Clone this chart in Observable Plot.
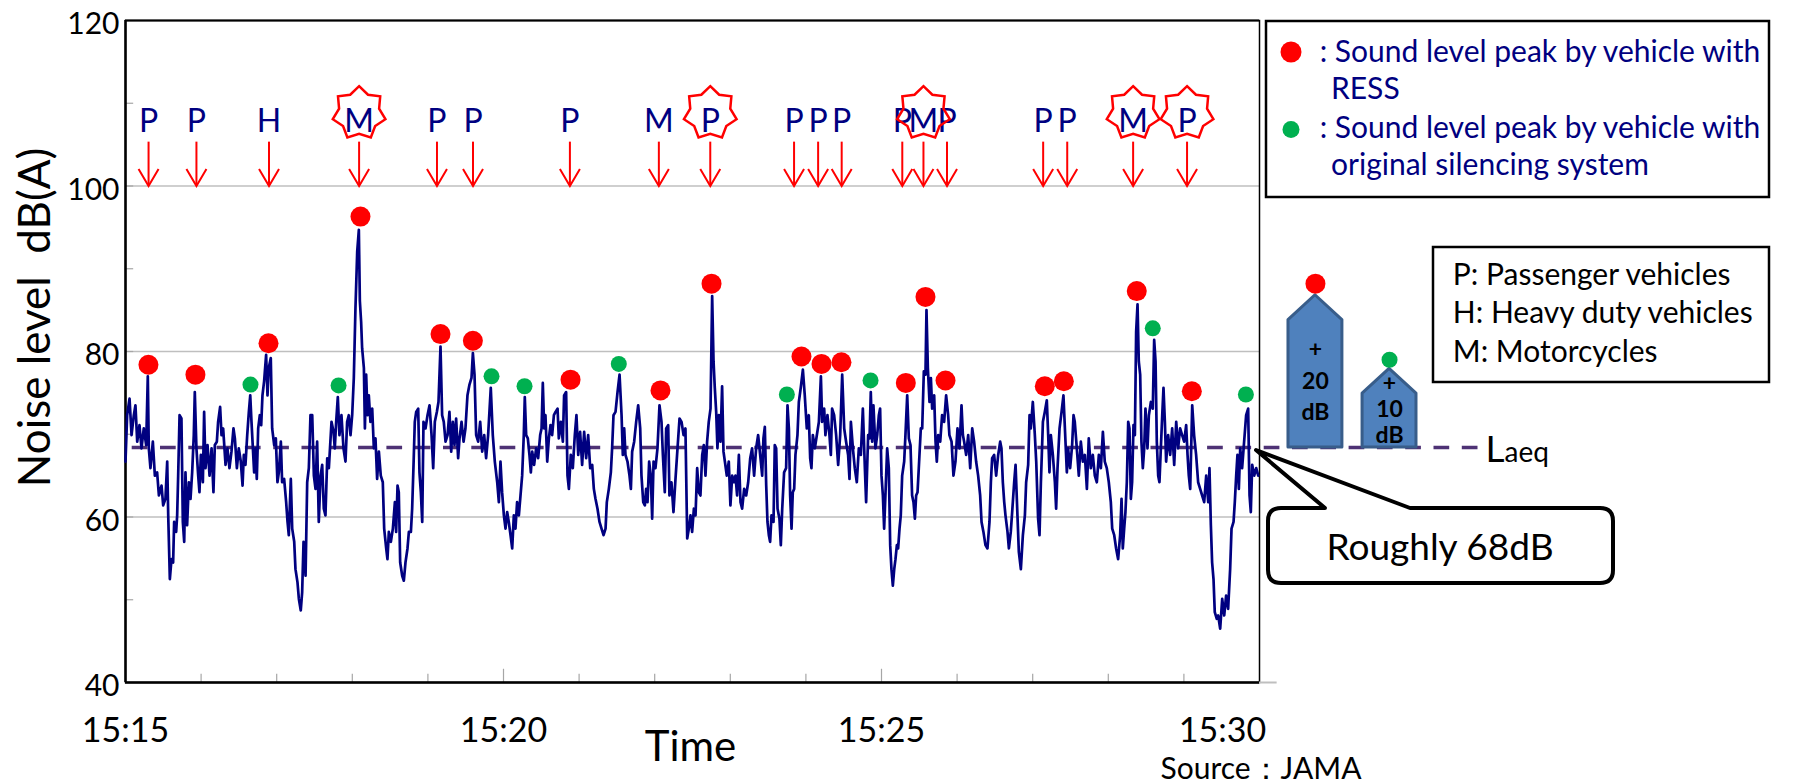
<!DOCTYPE html>
<html><head><meta charset="utf-8">
<script src="https://cdn.jsdelivr.net/npm/d3@7"></script>
<script src="https://cdn.jsdelivr.net/npm/@observablehq/plot@0.6"></script>
<style>
html,body{margin:0;padding:0;background:#fff;}
#chart{width:1805px;height:783px;overflow:hidden;position:relative;}
</style></head><body><div id="chart"></div>
<script>
// ---------- DATA ----------
// noise level readings: [seconds after 15:15:00, dB(A)]
const noiseReadings = [
[0,66.7],[1.3,72.3],[3.2,74.3],[4.8,69.9],[6.6,72.3],[7.9,73.5],[9.3,69.1],[11.1,71.1],[12.7,68.3],[14.5,70.7],[16.4,68.7],[17.7,77.0],[18.5,68.3],[19.8,65.9],[21.7,69.1],[23.3,65.0],[25.1,65.4],[26.5,62.6],[28.6,63.8],[29.9,61.4],[31.7,62.2],[33.1,66.7],[33.9,60.2],[35.2,52.5],[36.5,54.9],[37.8,54.5],[38.6,59.4],[40.2,58.2],[41.0,60.2],[41.8,65.0],[42.9,72.3],[44.4,71.9],[45.5,59.4],[46.6,57.0],[47.6,65.4],[48.9,59.0],[50.3,64.2],[51.6,62.2],[52.9,65.4],[54.2,69.9],[55.0,75.1],[56.3,68.3],[57.7,65.0],[58.7,63.0],[59.8,67.5],[61.4,64.2],[62.4,72.7],[63.5,65.9],[65.1,68.7],[66.7,65.0],[68.3,68.3],[69.8,63.0],[70.9,68.7],[72.5,69.1],[73.5,71.5],[75.1,73.3],[76.2,69.9],[77.5,70.7],[79.4,66.3],[80.9,68.3],[82.5,65.9],[84.1,67.9],[85.7,70.7],[86.8,69.5],[88.4,65.9],[89.9,68.3],[91.5,66.7],[92.9,63.8],[93.9,67.5],[95.2,66.3],[96.6,69.9],[97.9,72.7],[99.0,74.7],[100.0,71.5],[101.1,68.3],[102.1,65.4],[103.2,68.3],[104.2,64.6],[105.3,70.7],[106.6,72.3],[107.7,71.1],[108.7,74.7],[110.0,76.4],[111.6,79.6],[112.7,74.7],[113.7,78.0],[115.3,79.2],[116.4,70.7],[118.0,68.7],[119.3,69.5],[120.6,64.2],[121.7,65.4],[123.3,69.1],[124.3,64.2],[125.9,64.6],[127.5,61.8],[128.6,59.4],[129.6,57.8],[131.2,64.6],[132.3,58.6],[133.9,57.0],[134.9,53.7],[136.5,52.1],[137.6,50.1],[139.1,48.7],[140.2,50.9],[141.3,57.0],[142.9,52.9],
[144.2,64.2],[145.5,65.9],[146.8,72.3],[148.2,72.3],[149.5,65.0],[150.8,63.4],[152.1,69.1],[153.4,59.4],[154.8,65.0],[156.1,66.3],[157.4,61.0],[158.7,60.2],[160.1,67.1],[161.4,65.9],[163.5,71.5],[165.1,70.3],[166.1,68.3],[167.2,71.5],[168.5,74.5],[169.8,69.9],[171.4,72.3],[173.0,68.3],[174.6,66.7],[175.9,71.5],[177.2,72.3],[178.6,69.9],[179.9,72.3],[181.2,76.8],[182.5,85.2],[183.9,92.1],[185.2,94.7],[186.0,86.1],[187.0,83.6],[187.8,80.4],[189.2,78.0],[190.0,70.7],[191.0,77.2],[192.1,72.3],[193.1,74.7],[194.4,71.5],[195.8,73.1],[197.1,68.3],[198.4,69.5],[199.7,64.6],[201.1,67.9],[202.6,65.0],[204.2,64.2],[205.3,58.6],[206.9,56.2],[207.9,54.9],[209.0,58.2],[210.6,57.0],[212.2,58.6],[213.8,61.8],[214.8,58.2],[215.9,63.8],[216.9,63.0],[218.0,54.5],[219.6,52.9],[220.9,52.3],[222.2,54.5],[223.8,56.2],[224.9,58.2],[226.5,58.2],[227.5,61.0],[228.6,66.3],[229.6,71.5],[230.7,72.7],[232.3,73.1],[233.3,65.4],[234.4,63.0],[235.5,59.4],[236.5,71.5],[238.1,70.7],[239.7,72.3],[241.3,73.5],[242.9,69.9],[244.2,65.9],[245.5,71.5],[247.1,72.7],[248.4,73.9],[250.0,80.6],[251.3,72.3],[252.6,71.5],[254.0,69.1],[255.6,69.9],[257.1,72.7],[258.5,67.9],[259.8,71.5],[261.1,68.7],[262.4,71.9],[264.0,67.1],[265.1,69.5],[266.7,71.5],[268.3,69.1],[269.8,70.7],[271.4,74.7],[273.0,76.0],[274.6,76.8],[275.7,79.8],[277.0,77.2],[278.3,69.9],[279.9,69.1],[281.5,71.5],[283.1,67.9],[284.7,69.9],[286.2,67.1],[287.8,69.9],[289.9,75.6],[291.5,69.9],[293.1,66.7],
[295.0,64.2],[296.3,61.8],[297.6,66.7],[298.9,63.0],[300.3,60.2],[301.6,58.6],[302.9,60.6],[304.2,59.4],[305.6,57.8],[306.9,56.2],[308.2,60.2],[309.5,58.6],[310.8,61.8],[312.2,60.2],[313.5,62.6],[314.8,65.0],[316.1,69.9],[316.9,74.5],[318.0,69.9],[319.3,69.5],[320.6,67.5],[321.7,65.4],[322.8,67.9],[324.3,66.3],[325.9,68.3],[327.5,67.1],[329.1,69.9],[330.2,70.7],[331.2,76.2],[332.3,70.7],[333.3,72.3],[334.7,66.7],[336.0,69.5],[337.3,71.1],[338.6,69.9],[340.0,72.3],[341.3,72.7],[342.9,73.1],[343.9,69.5],[345.5,71.5],[347.1,69.1],[348.1,74.7],[349.7,75.1],[350.8,65.0],[351.9,63.4],[353.4,67.5],[355.0,65.9],[356.6,69.9],[357.9,72.3],[359.3,67.5],[360.8,70.3],[362.4,66.3],[364.0,70.3],[365.6,67.1],[367.2,69.9],[368.8,65.9],[370.4,66.3],[371.7,63.4],[373.0,62.2],[374.6,61.0],[376.2,59.4],[377.8,58.6],[379.4,57.8],[381.0,58.6],[382.0,61.8],[383.6,63.4],[385.2,65.4],[386.2,68.3],[387.3,72.3],[388.9,72.7],[390.5,75.1],[392.1,77.2],[393.7,72.3],[394.7,67.5],[395.8,70.7],[396.8,67.5],[398.4,66.7],[400.0,65.0],[401.1,63.4],[402.1,67.9],[403.7,69.1],[405.3,71.5],[406.9,73.5],[408.5,70.7],[409.5,65.0],[410.9,61.8],[412.2,61.4],[413.2,63.4],[414.3,61.8],[415.6,66.7],[416.9,65.0],[418.0,59.8],[419.1,66.7],[420.6,65.9],[422.2,68.3],[423.8,73.5],[425.4,71.5],[426.5,67.5],[428.0,63.0],[429.1,70.7],[430.7,71.1],[431.7,62.6],[433.3,64.2],[434.9,60.6],[436.5,64.6],[438.1,68.3],[439.7,71.9],[441.3,71.5],[442.9,69.9],
[444.4,70.7],[445.8,57.4],[447.1,58.6],[448.4,60.2],[449.7,58.2],[451.1,61.0],[452.4,60.2],[453.7,65.9],[455.0,63.0],[456.3,62.6],[457.7,67.5],[459.0,68.7],[460.3,65.0],[461.6,69.1],[462.9,71.5],[464.3,73.1],[465.6,86.7],[466.7,78.8],[467.7,75.6],[468.8,72.7],[469.8,68.3],[470.9,72.3],[472.2,69.1],[473.5,75.8],[474.6,67.9],[475.7,66.7],[477.2,65.0],[478.8,66.7],[480.1,61.4],[481.5,65.0],[482.8,64.2],[484.1,65.0],[485.4,62.6],[486.8,67.5],[488.1,61.8],[489.4,61.0],[491.0,63.4],[492.6,62.6],[494.2,64.2],[495.8,67.1],[497.3,68.3],[498.9,65.0],[500.5,68.3],[502.1,69.9],[503.7,67.5],[505.3,65.0],[506.3,69.5],[507.4,70.9],[508.5,63.8],[509.5,59.4],[510.6,57.8],[511.6,57.0],[512.7,60.2],[514.3,59.4],[515.3,68.7],[516.4,68.3],[517.5,61.0],[519.0,59.8],[520.1,56.6],[521.2,61.0],[522.7,65.4],[524.3,65.9],[525.4,73.5],[526.5,70.7],[527.5,62.6],[528.6,58.6],[529.6,63.0],[530.7,63.4],[531.7,67.5],[533.3,69.9],[534.4,73.9],[535.9,75.6],[537.6,77.8],[539.1,74.7],[540.7,70.7],[542.3,72.3],[543.4,67.1],[544.4,65.9],[545.5,69.9],[547.1,68.3],[548.7,69.9],[550.3,71.5],[551.9,77.0],[552.9,71.5],[554.5,73.1],[555.5,69.9],[557.1,72.3],[558.7,69.9],[559.8,67.5],[560.8,73.1],[562.4,72.3],[564.0,69.9],[565.6,66.3],[567.2,69.9],[568.8,77.2],[570.4,70.7],[571.9,69.1],[573.5,67.5],[574.6,64.6],[575.7,71.5],[577.3,68.3],[578.8,65.9],[580.4,64.2],[582.0,68.3],[583.6,67.5],[585.2,73.1],[586.8,65.9],[587.8,61.8],[589.4,69.9],[590.5,69.5],[591.5,75.1],[592.6,69.1],[593.6,73.5],
[595.2,68.3],[596.6,69.9],[597.9,72.3],[598.9,73.1],[600.0,65.0],[601.1,62.6],[602.1,58.6],[603.2,63.0],[604.5,68.3],[605.8,65.9],[606.9,56.6],[607.9,53.7],[609.0,51.7],[610.1,53.7],[611.1,54.9],[612.2,56.6],[613.2,56.2],[614.3,58.6],[615.3,60.2],[616.4,65.0],[618.0,66.7],[619.0,69.9],[620.4,74.7],[621.7,69.5],[623.0,68.7],[624.3,62.6],[625.4,61.8],[626.5,59.8],[627.5,62.6],[628.6,63.0],[629.6,65.9],[631.2,70.7],[632.3,70.7],[633.6,77.6],[634.9,77.2],[635.7,85.0],[636.8,78.0],[638.1,73.9],[639.2,76.8],[640.2,73.1],[641.8,74.7],[642.9,69.1],[643.9,66.7],[645.0,69.9],[646.6,69.1],[648.1,72.3],[649.7,71.5],[651.3,74.7],[652.9,72.3],[653.9,69.9],[655.6,69.1],[657.1,65.0],[658.7,66.7],[660.3,70.7],[661.9,68.3],[663.5,73.5],[664.6,69.9],[665.6,69.1],[667.2,67.5],[668.8,69.9],[670.4,65.9],[672.0,70.7],[673.5,69.1],[675.1,66.7],[676.7,65.0],[678.3,62.6],[679.4,59.4],[680.9,58.2],[682.5,56.6],[684.1,56.2],[685.7,59.4],[686.8,64.2],[687.8,67.1],[689.4,67.5],[691.0,65.0],[692.6,67.5],[694.2,69.1],[695.2,68.3],[696.3,64.2],[697.4,61.8],[698.4,60.2],[700.0,58.2],[701.1,56.2],[702.6,58.2],[703.7,60.6],[705.3,64.2],[706.4,66.3],[707.9,60.2],[709.0,55.8],[710.6,53.7],[712.2,57.8],[713.8,60.2],[714.8,64.2],[716.4,66.3],[717.5,72.3],[718.5,70.7],[720.1,73.9],[721.7,69.9],[722.8,66.7],[724.3,59.8],[725.4,57.8],[726.5,64.2],[728.1,71.5],[729.6,72.7],[731.2,74.1],[732.3,69.9],[733.3,65.4],[734.4,69.9],[736.0,67.5],[737.6,64.2],[738.6,61.0],[739.7,65.9],[741.3,70.7],[742.9,72.7],[744.4,74.7],
[747.1,65.4],[748.1,68.3],[749.7,65.9],[751.3,68.7],[752.4,72.3],[753.4,71.5],[755.0,68.3],[756.6,65.0],[758.2,69.1],[759.8,66.7],[761.4,67.5],[763.0,63.4],[764.5,69.5],[766.1,65.9],[767.7,67.5],[769.3,65.0],[770.9,64.2],[772.5,67.5],[774.1,65.9],[775.7,70.3],[777.2,66.7],[778.8,65.9],[780.4,64.2],[782.0,61.8],[783.1,58.6],[784.7,57.8],[786.2,56.2],[787.8,54.9],[789.4,57.8],[790.5,62.2],[791.5,56.2],[792.6,58.6],[793.6,60.6],[794.7,64.2],[795.8,71.5],[796.8,70.7],[797.9,62.2],[798.9,64.2],[800.0,71.1],[801.1,69.9],[802.1,82.4],[803.2,85.7],[804.2,78.8],[805.3,77.2],[806.3,69.1],[807.4,65.9],[808.5,68.3],[809.5,73.1],[811.1,68.3],[812.2,72.3],[813.8,73.9],[815.3,73.1],[816.4,81.4],[817.5,78.8],[818.5,69.1],[819.6,65.0],[820.6,64.2],[821.7,68.3],[822.8,72.3],[823.8,75.6],[824.9,71.5],[825.9,66.7],[827.5,69.9],[829.1,67.5],[830.7,70.7],[832.3,66.3],[833.9,71.5],[835.4,68.3],[837.0,70.7],[838.6,69.9],[840.2,69.1],[841.8,71.1],[842.9,67.5],[843.9,65.0],[845.0,63.4],[846.6,73.5],[848.1,69.9],[849.7,67.5],[851.3,64.2],[852.9,63.4],[854.5,62.6],[856.1,61.8],[857.7,65.0],[859.3,61.8],[860.3,65.9],[861.4,59.0],[862.4,54.5],[863.5,52.5],[864.5,48.5],[866.1,47.7],[867.2,48.1],[868.8,46.5],[870.4,50.1],[872.0,48.1],[873.5,50.5],[875.1,48.9],[876.7,53.7],[877.8,58.6],[879.4,59.4],[880.4,61.8],[881.5,65.0],[882.5,67.5],[883.6,63.4],[884.7,68.3],[886.2,65.9],[887.8,69.1],[889.4,72.3],[891.0,73.1],[892.1,62.6],[893.1,60.6],[894.2,66.3],[895.8,65.0],[897.4,65.9],[899.0,65.0]
];

// sound level peaks by vehicles with RESS (red)
const ressPeakSec = [18.2,55.5,113.5,186.5,250.0,275.7,353.2,424.6,465.1,536.5,552.4,568.2,619.3,634.9,650.8,729.6,744.7,802.6,846.3];
const ressPeakDb  = [78.4,77.2,81.0,96.3,82.1,81.3,76.6,75.3,88.2,79.4,78.5,78.7,76.2,86.6,76.5,75.8,76.4,87.3,75.2];
// sound level peaks by vehicles with original silencing system (green)
const origPeakSec = [99.2,169.1,290.5,316.7,391.5,524.9,591.3,815.3,889.2];
const origPeakDb  = [76.0,75.9,77.0,75.8,78.5,74.8,76.5,82.8,74.8];

// RESS vehicle passages (arrows)
const vehicleSec  = [18.3,56.3,113.9,185.4,247.2,275.8,352.7,423.3,464.1,530.6,549.7,568.4,616.5,633.3,652.0,728.3,747.4,799.7,842.5];
const vehicleType = ["P","P","H","M","P","P","P","M","P","P","P","P","P","M","P","P","P","M","P"];
const vehicleStar = [false,false,false,true,false,false,false,false,true,false,false,false,false,true,false,false,false,true,true];

const laeq = 68.4;                  // Laeq, dB(A)
const yTicks = [40, 60, 80, 100, 120];
const yGrid = [60, 80, 100];
const xTickLabels = ["15:15", "15:20", "15:25", "15:30"];
const boostLabels = ["+\n20\ndB", "+\n10\ndB"];
const boostTopDb = [86.8, 77.9];
const boostDotDb = [88.2, 79.0];

const legendPeakLines = [": Sound level peak by vehicle with", "RESS", ": Sound level peak by vehicle with", "original silencing system"];
const legendTypeLines = ["P: Passenger vehicles", "H: Heavy duty vehicles", "M: Motorcycles"];

// ---------- BUILD ----------
const FONT = "Lato, 'Open Sans', sans-serif";
const NAVY = "#000080", RED = "#ff0000", GREEN = "#00b050";
const parseHM = d3.utcParse("%H:%M");
const T0 = parseHM(xTickLabels[0]).getTime();
const toDate = s => new Date(T0 + s * 1000);
const xTicks = xTickLabels.map(parseHM);
const tEnd = (xTicks[xTicks.length - 1].getTime() - T0) / 1000;

const noise = noiseReadings.map(([s, v]) => ({t: toDate(s), db: v}));
const ress = ressPeakSec.map((s, i) => ({t: toDate(s), db: ressPeakDb[i]}));
const orig = origPeakSec.map((s, i) => ({t: toDate(s), db: origPeakDb[i]}));
const vehicles = vehicleSec.map((s, i) => ({t: toDate(s), type: vehicleType[i], star: vehicleStar[i]}));

const minuteTicks = d3.range(60, tEnd, 60).filter(s => s % 300 !== 0).map(toDate);
const fiveTicks = d3.range(300, tEnd, 300).map(toDate);

// annotation layout beyond the time axis (seconds after 15:15)
const laeqEnd = 1081;
const boostCenter = [944.4, 1003.2], boostHalf = 21.4;
const boostShape = boostCenter.flatMap((c, i) => [
  {k: i, t: toDate(c - boostHalf), y1: laeq, y2: boostTopDb[i] - 3},
  {k: i, t: toDate(c), y1: laeq, y2: boostTopDb[i]},
  {k: i, t: toDate(c + boostHalf), y1: laeq, y2: boostTopDb[i] - 3}
]);

const star7 = {draw(ctx, size) {
  const R = Math.sqrt(size / Math.PI), r = R * 0.76;
  for (let k = 0; k < 14; k++) {
    const a = -Math.PI / 2 + k * Math.PI / 7, rr = k % 2 ? r : R;
    const x = rr * Math.cos(a), y = rr * Math.sin(a);
    if (k) ctx.lineTo(x, y); else ctx.moveTo(x, y);
  }
  ctx.closePath();
}};
const vHead = {draw(ctx) { ctx.moveTo(-10, -17); ctx.lineTo(0, 0); ctx.lineTo(10, -17); }};

const xAxisOpts = {tickFormat: d3.utcFormat("%H:%M"), tickSize: 0, tickPadding: 35, fontSize: 34, label: null};

const chart = Plot.plot({
  width: 1805, height: 783,
  marginLeft: 125, marginRight: 546, marginTop: 20, marginBottom: 101,
  style: {fontFamily: FONT, fontSize: "30px", color: "black", background: "white", overflow: "visible"},
  x: {type: "utc", domain: [toDate(0), toDate(tEnd)]},
  y: {domain: [40, 120]},
  marks: [
    Plot.ruleY(yGrid, {stroke: "#bfbfbf", strokeWidth: 1.5}),
    Plot.ruleY(d3.range(50, 120, 10), {x1: toDate(0), x2: toDate(6.5), stroke: "#a6a6a6", strokeWidth: 1.2}),
    Plot.ruleX(minuteTicks, {y1: 40, y2: 41, stroke: "#a6a6a6", strokeWidth: 1.2}),
    Plot.ruleX(fiveTicks, {y1: 40, y2: 41.6, stroke: "#a6a6a6", strokeWidth: 1.2}),
    Plot.frame({stroke: "black", strokeWidth: 1.5}),
    Plot.ruleY([120], {stroke: "black", strokeWidth: 2.2}),
    Plot.ruleX([toDate(0)], {stroke: "black", strokeWidth: 2.5}),
    Plot.ruleY([40], {stroke: "black", strokeWidth: 2.5}),
    Plot.ruleY([40], {x1: toDate(tEnd), x2: toDate(tEnd + 14), stroke: "#bfbfbf", strokeWidth: 2}),
    Plot.axisY({ticks: yTicks, tickSize: 0, tickPadding: 6, fontSize: 30, dy: 4, label: null}),
    Plot.axisX({...xAxisOpts, ticks: xTicks.slice(0, -1)}),
    Plot.axisX({...xAxisOpts, ticks: xTicks.slice(-1), dx: -37}),
    Plot.text(["Noise level  dB(A)"], {frameAnchor: "left", textAnchor: "middle", dx: -90, dy: -34, rotate: -90, fontSize: 44}),
    Plot.text(["Time"], {frameAnchor: "bottom", lineAnchor: "bottom", dx: -2, dy: 78, fontSize: 42}),
    Plot.text(["Source：JAMA"], {frameAnchor: "bottom-right", textAnchor: "start", lineAnchor: "bottom", dx: -99, dy: 96, fontSize: 30}),
    // Laeq
    Plot.ruleY([laeq], {x1: toDate(0), x2: toDate(laeqEnd), stroke: "#4e3275", strokeWidth: 3.5, strokeDasharray: "15.7 12.6", strokeDashoffset: 21.6}),
    Plot.text(["L"], {x: toDate(laeqEnd), y: laeq, textAnchor: "start", lineAnchor: "bottom", dx: -2, dy: 15, fontSize: 37}),
    Plot.text(["aeq"], {x: toDate(laeqEnd), y: laeq, textAnchor: "start", lineAnchor: "bottom", dx: 17, dy: 15, fontSize: 28}),
    // noise trace
    Plot.line(noise, {x: "t", y: "db", stroke: NAVY, strokeWidth: 2.7}),
    Plot.dot(ress, {x: "t", y: "db", r: 10, fill: RED}),
    Plot.dot(orig, {x: "t", y: "db", r: 8, fill: GREEN}),
    // vehicle arrows & labels
    Plot.ruleX(vehicles, {x: "t", y1: 100, y2: 105.3, stroke: RED, strokeWidth: 2}),
    Plot.dot(vehicles, {x: "t", y: 100, symbol: vHead, r: 5, stroke: RED, fill: "none", strokeWidth: 2}),
    Plot.text(vehicles, {x: "t", y: 106.5, text: "type", fill: NAVY, fontSize: 32, lineAnchor: "bottom"}),
    Plot.dot(vehicles.filter(d => d.star), {x: "t", y: 108.8, symbol: star7, r: 27, stroke: RED, fill: "none", strokeWidth: 2.5}),
    // +20 / +10 dB indicators
    Plot.areaY(boostShape, {x: "t", y1: "y1", y2: "y2", z: "k", fill: "#4f81bd", stroke: "#385d8a", strokeWidth: 3, strokeLinejoin: "round"}),
    Plot.dot([0], {x: () => toDate(boostCenter[0]), y: () => boostDotDb[0], r: 10, fill: RED}),
    Plot.dot([1], {x: () => toDate(boostCenter[1]), y: () => boostDotDb[1], r: 8, fill: GREEN}),
    Plot.text([boostLabels[0]], {x: () => toDate(boostCenter[0]), y: () => laeq, lineAnchor: "bottom", dy: -27, fontSize: 23, fontWeight: "bold", lineHeight: 1.39}),
    Plot.text([boostLabels[1]], {x: () => toDate(boostCenter[1]), y: () => laeq, lineAnchor: "bottom", dy: -4, fontSize: 23, fontWeight: "bold", lineHeight: 1.15})
  ]
});
document.getElementById("chart").appendChild(chart);

// ---------- LEGENDS & CALLOUT ----------
const svg = d3.select(chart);
const g = svg.append("g").attr("font-family", FONT).attr("text-anchor", "start");
// peak legend
g.append("rect").attr("x", 1266).attr("y", 21).attr("width", 503).attr("height", 176)
  .attr("fill", "white").attr("stroke", "black").attr("stroke-width", 2.5);
g.append("circle").attr("cx", 1291).attr("cy", 52).attr("r", 10.5).attr("fill", RED);
g.append("circle").attr("cx", 1291).attr("cy", 129.5).attr("r", 8.5).attr("fill", GREEN);
const peakPos = [[1319.7, 61.7], [1331, 99.3], [1319.7, 138.3], [1331, 175]];
legendPeakLines.forEach((s, i) => g.append("text").attr("x", peakPos[i][0]).attr("y", peakPos[i][1])
  .attr("font-size", 30).attr("fill", NAVY).text(s));
// vehicle type legend
g.append("rect").attr("x", 1433).attr("y", 247).attr("width", 336).attr("height", 135)
  .attr("fill", "white").attr("stroke", "black").attr("stroke-width", 2.5);
legendTypeLines.forEach((s, i) => g.append("text").attr("x", 1452.8).attr("y", 285 + i * 38.4)
  .attr("font-size", 30).attr("fill", "black").text(s));
// callout
g.append("path")
  .attr("d", "M1410,508 L1600,508 Q1613,508 1613,521 L1613,570 Q1613,583 1600,583 L1281,583 Q1268,583 1268,570 L1268,521 Q1268,508 1281,508 L1325,508 L1256,450 Z")
  .attr("fill", "white").attr("stroke", "black").attr("stroke-width", 4).attr("stroke-linejoin", "round");
g.append("text").attr("x", 1440).attr("y", 560).attr("text-anchor", "middle").attr("font-size", 37).attr("fill", "black").text("Roughly 68dB");
</script></body></html>
